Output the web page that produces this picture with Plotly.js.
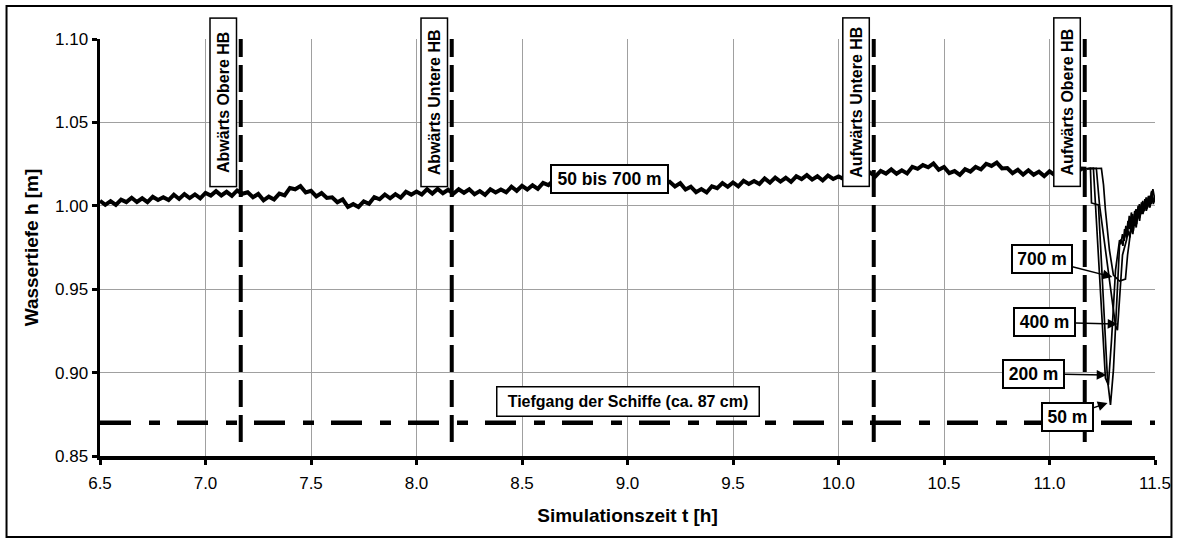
<!DOCTYPE html>
<html>
<head>
<meta charset="utf-8">
<script src="https://cdn.plot.ly/plotly-3.0.1.min.js"></script>
<style>html,body{margin:0;padding:0;background:#fff}#chart{width:1179px;height:541px}</style>
</head>
<body>
<div id="chart"></div>
<script>
// common part of all four series (50 bis 700 m)
var baseT = [6.500,6.525,6.550,6.575,6.600,6.625,6.650,6.675,6.700,6.725,6.750,6.775,6.800,6.825,6.850,6.875,6.900,6.925,6.950,6.975,
7.000,7.025,7.050,7.075,7.100,7.125,7.150,7.175,7.200,7.225,7.250,7.275,7.300,7.325,7.350,7.375,7.400,7.425,7.450,7.475,
7.500,7.525,7.550,7.575,7.600,7.625,7.650,7.675,7.700,7.725,7.750,7.775,7.800,7.825,7.850,7.875,7.900,7.925,7.950,7.975,
8.000,8.025,8.050,8.075,8.100,8.125,8.150,8.175,8.200,8.225,8.250,8.275,8.300,8.325,8.350,8.375,8.400,8.425,8.450,8.475,
8.500,8.525,8.550,8.575,8.600,8.625,8.650,8.675,8.700,8.725,8.750,8.775,8.800,8.825,8.850,8.875,8.900,8.925,8.950,8.975,
9.000,9.025,9.050,9.075,9.100,9.125,9.150,9.175,9.200,9.225,9.250,9.275,9.300,9.325,9.350,9.375,9.400,9.425,9.450,9.475,
9.500,9.525,9.550,9.575,9.600,9.625,9.650,9.675,9.700,9.725,9.750,9.775,9.800,9.825,9.850,9.875,9.900,9.925,9.950,9.975,
10.000,10.025,10.050,10.075,10.100,10.125,10.150,10.175,10.200,10.225,10.250,10.275,10.300,10.325,10.350,10.375,10.400,10.425,10.450,10.475,
10.500,10.525,10.550,10.575,10.600,10.625,10.650,10.675,10.700,10.725,10.750,10.775,10.800,10.825,10.850,10.875,10.900,10.925,10.950,10.975,
11.000,11.025,11.050,11.075,11.100,11.125,11.150,11.175];
var baseH = [1.0030,1.0006,1.0028,1.0005,1.0037,1.0022,1.0048,1.0023,1.0045,1.0022,1.0054,1.0035,1.0051,1.0034,1.0066,1.0041,1.0070,1.0046,1.0068,1.0045,
1.0077,1.0061,1.0088,1.0062,1.0084,1.0060,1.0092,1.0072,1.0081,1.0051,1.0071,1.0033,1.0055,1.0038,1.0073,1.0062,1.0107,1.0099,1.0118,1.0080,
1.0090,1.0056,1.0077,1.0047,1.0051,1.0021,1.0038,0.9993,1.0010,0.9993,1.0026,1.0012,1.0052,1.0039,1.0068,1.0045,1.0070,1.0049,1.0084,1.0067,
1.0086,1.0068,1.0099,1.0073,1.0101,1.0075,1.0096,1.0072,1.0099,1.0078,1.0099,1.0069,1.0088,1.0065,1.0099,1.0080,1.0098,1.0081,1.0114,1.0090,
1.0120,1.0098,1.0123,1.0102,1.0137,1.0124,1.0153,1.0126,1.0147,1.0122,1.0154,1.0133,1.0148,1.0129,1.0160,1.0133,1.0161,1.0135,1.0156,1.0131,
1.0162,1.0143,1.0165,1.0136,1.0154,1.0127,1.0155,1.0132,1.0144,1.0116,1.0136,1.0098,1.0115,1.0082,1.0100,1.0080,1.0117,1.0106,1.0136,1.0114,
1.0140,1.0117,1.0150,1.0131,1.0148,1.0131,1.0164,1.0139,1.0169,1.0145,1.0168,1.0144,1.0177,1.0160,1.0184,1.0157,1.0177,1.0152,1.0182,1.0161,
1.0176,1.0160,1.0193,1.0169,1.0199,1.0176,1.0199,1.0177,1.0209,1.0193,1.0218,1.0192,1.0213,1.0194,1.0234,1.0222,1.0244,1.0231,1.0254,1.0216,
1.0233,1.0196,1.0208,1.0185,1.0219,1.0205,1.0233,1.0218,1.0252,1.0239,1.0259,1.0224,1.0226,1.0196,1.0216,1.0187,1.0213,1.0186,1.0205,1.0178,
1.0207,1.0184,1.0203,1.0175,1.0200,1.0184,1.0224,1.0222];

// individual tails after the passage at the upper harbour (distance from lock)
var t50  = [11.175,11.194,11.199,11.232,11.275,11.289,11.303,11.318,11.332,11.340,11.348,11.356,11.364,11.372,11.380,11.388,11.396,11.404,11.412,11.420,11.428,11.436,11.444,11.452,11.460,11.468,11.476,11.484,11.492,11.500];
var h50  = [1.0222,1.0225,1.0017,1.0005,0.8956,0.8806,0.9016,0.9435,0.9765,0.980,0.976,0.986,0.981,0.991,0.986,0.996,0.989,0.997,0.991,1.000,0.994,1.002,0.996,1.004,0.998,1.005,0.999,1.009,1.001,1.006];
var t200 = [11.175,11.208,11.218,11.265,11.279,11.294,11.313,11.332,11.338,11.346,11.354,11.362,11.370,11.378,11.386,11.394,11.402,11.410,11.418,11.426,11.434,11.442,11.450,11.458,11.466,11.474,11.482,11.490,11.500];
var h200 = [1.0222,1.0225,1.0005,0.8968,0.8926,0.9195,0.9615,0.9795,0.977,0.983,0.979,0.988,0.983,0.994,0.987,0.995,0.988,0.998,0.992,1.001,0.995,1.003,0.997,1.005,0.999,1.006,1.001,1.010,1.003];
var t400 = [11.175,11.222,11.237,11.265,11.294,11.313,11.322,11.336,11.346,11.365,11.373,11.381,11.389,11.397,11.405,11.413,11.421,11.429,11.437,11.445,11.453,11.461,11.469,11.477,11.485,11.493,11.500];
var h400 = [1.0222,1.0225,1.0005,0.9735,0.9435,0.928,0.9255,0.9495,0.9705,0.9795,0.985,0.981,0.991,0.985,0.995,0.989,0.999,0.993,1.001,0.996,1.003,0.998,1.006,1.000,1.007,1.002,1.005];
var t700 = [11.175,11.246,11.256,11.265,11.284,11.303,11.332,11.360,11.370,11.379,11.387,11.395,11.403,11.411,11.419,11.427,11.435,11.443,11.451,11.459,11.467,11.475,11.483,11.491,11.500];
var h700 = [1.0222,1.0225,1.0125,0.9975,0.9735,0.9585,0.9549,0.9561,0.9705,0.9795,0.987,0.983,0.992,0.987,0.997,0.991,1.000,0.995,1.002,0.997,1.004,0.999,1.008,1.002,1.004];

// event lines (passages) and labels
var eventT = [7.167, 8.167, 10.167, 11.167];
var eventLabels = ['Abwärts Obere HB', 'Abwärts Untere HB', 'Aufwärts Untere HB', 'Aufwärts Obere HB'];
var eventLabelT = [7.082, 8.082, 10.081, 11.081];
var draft = 0.87;
var draftLabel = 'Tiefgang der Schiffe (ca. 87 cm)';
var commonLabel = '50 bis 700 m';
var distLabels = ['700 m', '400 m', '200 m', '50 m'];
var distTipT = [11.298, 11.322, 11.270, 11.275];
var distTipH = [0.9573, 0.9291, 0.8986, 0.8818];

var xTitle = 'Simulationszeit t [h]';
var yTitle = 'Wassertiefe h [m]';

var FONT = 'Arial, "Liberation Sans", sans-serif';

var traces = [
  {x: baseT, y: baseH, mode: 'lines', line: {color: '#000', width: 4}, hoverinfo: 'skip'},
  {x: t50, y: h50, mode: 'lines', line: {color: '#000', width: 1.7}, hoverinfo: 'skip'},
  {x: t200, y: h200, mode: 'lines', line: {color: '#000', width: 1.7}, hoverinfo: 'skip'},
  {x: t400, y: h400, mode: 'lines', line: {color: '#000', width: 1.7}, hoverinfo: 'skip'},
  {x: t700, y: h700, mode: 'lines', line: {color: '#000', width: 1.7}, hoverinfo: 'skip'}
];

var shapes = [];
eventT.forEach(function (t) {
  shapes.push({type: 'line', xref: 'x', yref: 'y', x0: t, x1: t, y0: 0.8584, y1: 1.101,
    line: {color: '#000', width: 4, dash: '27px,8px'}, layer: 'above'});
});
shapes.push({type: 'line', xref: 'x', yref: 'y', x0: 6.5, x1: 11.5, y0: draft, y1: draft,
  line: {color: '#000', width: 4.5, dash: '31px,18px,11px,17px'}, layer: 'above'});
// outer frame
shapes.push({type: 'rect', xref: 'paper', yref: 'paper', x0: -0.0886, x1: 1.0156, y0: -0.194, y1: 1.079,
  line: {color: '#000', width: 2}, fillcolor: 'rgba(0,0,0,0)', layer: 'above'});

var annotations = [];
eventLabels.forEach(function (lab, i) {
  annotations.push({x: eventLabelT[i], y: 1.0619, xref: 'x', yref: 'y', text: '<b>' + lab + '</b>',
    showarrow: false, textangle: -90, xanchor: 'center', yanchor: 'middle',
    width: 163, height: 21, borderpad: 2, borderwidth: 1.5, bordercolor: '#000', bgcolor: '#fff',
    font: {family: FONT, size: 16, color: '#000'}});
});
annotations.push({x: 8.917, y: 1.0158, xref: 'x', yref: 'y', text: '<b>' + commonLabel + '</b>',
  showarrow: false, width: 110, height: 21, borderpad: 2.5, borderwidth: 2, bordercolor: '#000', bgcolor: '#fff',
  font: {family: FONT, size: 17.5, color: '#000'}});
annotations.push({x: 9.002, y: 0.8824, xref: 'x', yref: 'y', text: '<b>' + draftLabel + '</b>',
  showarrow: false, width: 256, height: 23, borderpad: 2.5, borderwidth: 1.5, bordercolor: '#000', bgcolor: '#fff',
  font: {family: FONT, size: 16, color: '#000'}});
var distAx = [-70, -72.5, -72.5, -40.5];
var distAy = [-18, -2, -1, 14];
var distW = [53, 54, 54, 44];
distLabels.forEach(function (lab, i) {
  annotations.push({x: distTipT[i], y: distTipH[i], xref: 'x', yref: 'y', text: '<b>' + lab + '</b>',
    showarrow: true, ax: distAx[i], ay: distAy[i], arrowhead: 2, arrowsize: 1.3, arrowwidth: 1.5, arrowcolor: '#000',
    width: distW[i], height: 21, borderpad: 2.5, borderwidth: 2, bordercolor: '#000', bgcolor: '#fff',
    font: {family: FONT, size: 17.5, color: '#000'}});
});

var layout = {
  width: 1179, height: 541,
  margin: {l: 100, r: 24, t: 39, b: 85},
  paper_bgcolor: '#fff', plot_bgcolor: '#fff',
  showlegend: false,
  font: {family: FONT, size: 17, color: '#000'},
  xaxis: {
    range: [6.5, 11.5], tick0: 6.5, dtick: 0.5, tickformat: '.1f',
    showline: true, linecolor: '#000', linewidth: 3.5,
    ticks: 'outside', ticklen: 5, tickwidth: 3, tickcolor: '#000', ticklabelstandoff: 4,
    showgrid: true, gridcolor: '#a0a0a0', gridwidth: 1, zeroline: false,
    tickfont: {family: FONT, size: 17, color: '#000'},
    title: {text: '<b>' + xTitle + '</b>', font: {family: FONT, size: 19, color: '#000'}, standoff: 18}
  },
  yaxis: {
    range: [0.85, 1.10], tick0: 0.85, dtick: 0.05, tickformat: '.2f',
    showline: true, linecolor: '#000', linewidth: 3.5,
    ticks: 'outside', ticklen: 5, tickwidth: 3, tickcolor: '#000',
    showgrid: true, gridcolor: '#a0a0a0', gridwidth: 1, zeroline: false,
    tickfont: {family: FONT, size: 17, color: '#000'},
    title: {text: '<b>' + yTitle + '</b>', font: {family: FONT, size: 19, color: '#000'}, standoff: 12}
  },
  shapes: shapes,
  annotations: annotations
};

Plotly.newPlot('chart', traces, layout, {displayModeBar: false, staticPlot: true});
</script>
</body>
</html>
